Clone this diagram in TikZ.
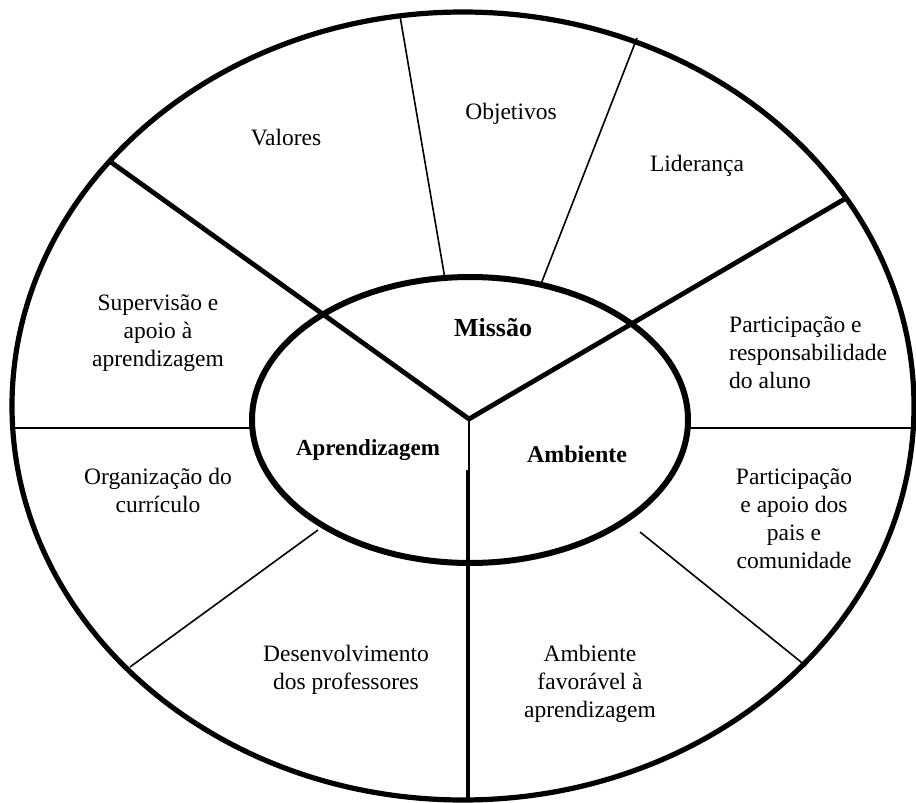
\documentclass[tikz,border=0pt]{standalone}
\usepackage{fontspec}
\setmainfont{Liberation Serif}
\begin{document}
\begin{tikzpicture}[x=1pt,y=-1pt,
  lbl/.style={anchor=north,inner sep=0pt,align=center,font=\fontsize{23.5}{28}\selectfont},
  lblleft/.style={lbl,align=left,anchor=north west},
  core/.style={anchor=base,inner sep=0pt,font=\fontsize{24}{28}\selectfont\bfseries},
  thinline/.style={line width=1.6pt},
  spoke/.style={line width=4.8pt},
  ring/.style={line width=5.2pt},
  ]
\fill[white] (0,0) rectangle (916,803);
\useasboundingbox (0,0) rectangle (916,803);

% key points
\coordinate (c) at (469,419);
\coordinate (ul) at (108,160);
\coordinate (ur) at (848,197);
\coordinate (vmid) at (469,470);
\coordinate (vbot) at (468,801);
\coordinate (t1a) at (400,16);
\coordinate (t1b) at (445,279);
\coordinate (t2a) at (637,38);
\coordinate (t2b) at (541,284);
\coordinate (hla) at (12,428);
\coordinate (hlb) at (252,428);
\coordinate (hra) at (688,428);
\coordinate (hrb) at (914,428);
\coordinate (lla) at (130,667);
\coordinate (llb) at (318,530);
\coordinate (lra) at (640,532);
\coordinate (lrb) at (806,666);

% thin dividers
\draw[thinline] (t1a) -- (t1b);
\draw[thinline] (t2a) -- (t2b);
\draw[thinline] (hla) -- (hlb);
\draw[thinline] (hra) -- (hrb);
\draw[thinline] (lla) -- (llb);
\draw[thinline] (lra) -- (lrb);
\draw[line width=2pt] (c) -- (vmid);

% thick spokes
\draw[spoke,line join=miter] (ul) -- (c) -- (ur);
\draw[spoke] ([xshift=-1pt]vmid) -- (vbot);

% ellipses
\draw[ring] (463,406) ellipse [x radius=451, y radius=394];
\draw[line width=6pt] (470,420) ellipse [x radius=218, y radius=143];

% outer labels
\node[lbl] (valores) at (286,126) {\strut Valores};
\node[lbl] (objetivos) at (511,100) {\strut Objetivos};
\node[lbl] (lideranca) at (697,152) {\strut Liderança};
\node[lbl] (supervisao) at (158,291) {\strut Supervisão e\\apoio à\\aprendizagem};
\node[lbl] (curriculo) at (158,465) {\strut Organização do\\currículo};
\node[lbl] (desenvolvimento) at (346,642) {\strut Desenvolvimento\\dos professores};
\node[lbl] (ambfav) at (590,642) {\strut Ambiente\\favorável à\\aprendizagem};
\node[lblleft] (participacao) at (729,313) {\strut Participação e\\responsabilidade\\do aluno};
\node[lbl] (pais) at (794,465) {\strut Participação\\e apoio dos\\pais e\\comunidade};

% core labels
\node[core,font=\fontsize{26}{28}\selectfont\bfseries] (missao) at (493,336) {Missão};
\node[core,font=\fontsize{23}{28}\selectfont\bfseries] (aprendizagem) at (368,455) {Aprendizagem};
\node[core] (ambiente) at (577,462) {Ambiente};
\end{tikzpicture}
\end{document}
